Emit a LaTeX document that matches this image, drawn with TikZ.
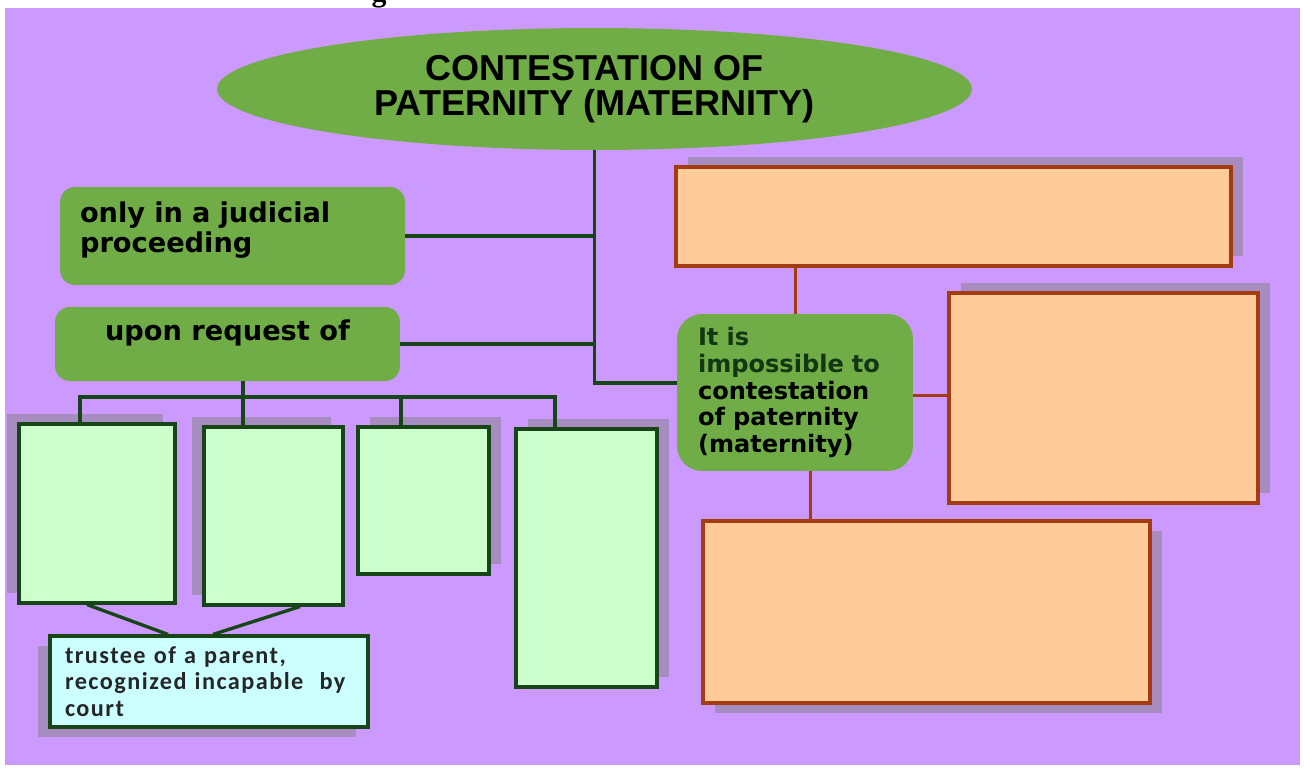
\documentclass[tikz,border=0pt]{standalone}
\usepackage{fontspec}
\setmainfont{Liberation Sans}
\newfontfamily\boxfont{DejaVu Sans}
\newfontfamily\notefont{Carlito}[LetterSpace=6]
\newfontfamily\headfont{Liberation Serif}
\usetikzlibrary{positioning,shapes.geometric,shadows,backgrounds}
\definecolor{lilacbg}{HTML}{CC99FF}
\definecolor{leafgreen}{HTML}{70AD47}
\definecolor{mintfill}{HTML}{CCFFCC}
\definecolor{icefill}{HTML}{CCFFFF}
\definecolor{peachfill}{HTML}{FFCC99}
\definecolor{pinegreen}{HTML}{174517}
\definecolor{rustline}{HTML}{A33C12}
\definecolor{shadelilac}{HTML}{A68CBF}
\tikzset{
  titleoval/.style={ellipse, fill=leafgreen, inner sep=0pt, minimum width=15.1cm,
    minimum height=2.44cm, align=center, font=\bfseries\fontsize{20.5}{20}\selectfont},
  greenbox/.style={rectangle, fill=leafgreen, rounded corners=0.3cm,
    font=\boxfont\bfseries\fontsize{15.5}{17}\selectfont},
  whobox/.style={rectangle, draw=pinegreen, fill=mintfill, line width=1.8pt},
  notebox/.style={rectangle, draw=pinegreen, fill=icefill, line width=1.8pt,
    align=left, font=\notefont\bfseries\fontsize{13.8}{15}\selectfont, text=black!85},
  limitbox/.style={rectangle, draw=rustline, fill=peachfill, line width=1.8pt},
  shadeUL/.style={drop shadow={shadow xshift=-0.24cm, shadow yshift=0.2cm,
    fill=shadelilac, opacity=1}},
  shadeUR/.style={drop shadow={shadow xshift=0.24cm, shadow yshift=0.2cm,
    fill=shadelilac, opacity=1}},
  shadeDL/.style={drop shadow={shadow xshift=-0.24cm, shadow yshift=-0.2cm,
    fill=shadelilac, opacity=1}},
  shadeDR/.style={drop shadow={shadow xshift=0.24cm, shadow yshift=-0.2cm,
    fill=shadelilac, opacity=1}},
  trunk/.style={draw=pinegreen, line width=1.9pt},
  rustlink/.style={draw=rustline, line width=1.7pt},
}

\begin{document}
\begin{tikzpicture}[x=0.02cm, y=-0.02cm]
\useasboundingbox (0,0) rectangle (1304,768);
\fill[white] (0,0) rectangle (1304,768);
\fill[lilacbg] (5,8) rectangle (1300,765);
% cut-off heading above the chart
\node[font=\headfont\bfseries\fontsize{17}{17}\selectfont, anchor=base, inner sep=0pt] (cut) at (379,1) {g};
% centre and left branch
\node[titleoval] (title) at (594.5,89) {CONTESTATION OF\\PATERNITY (MATERNITY)};
\node[greenbox, align=left, text width=6.1cm, inner xsep=0.4cm, minimum height=1.96cm,
  text depth=0.96cm] (judicial) at (232.5,236) {only in a judicial\\proceeding};
\node[greenbox, minimum width=6.9cm, minimum height=1.48cm, text depth=0.56cm] (upon) at (227.5,344) {upon request of};
\node[greenbox, rounded corners=0.5cm, align=left, text width=3.88cm, inner xsep=0.42cm,
  minimum height=3.14cm, font=\boxfont\bfseries\fontsize{13.7}{15.3}\selectfont] (itis) at (795,392.5)
  {\textcolor{pinegreen!80!black}{It is}\\\textcolor{pinegreen!80!black}{impossible to}\\contestation\\of paternity\\(maternity)};
% applicants
\node[whobox, shadeUL, minimum width=3.12cm, minimum height=3.58cm] (lg1) at (97,513.5) {};
\node[whobox, shadeUL, minimum width=2.78cm, minimum height=3.56cm] (lg2) at (273.5,516) {};
\node[whobox, shadeUR, minimum width=2.62cm, minimum height=2.94cm] (lg3) at (423.5,500.5) {};
\node[whobox, shadeUR, minimum width=2.82cm, minimum height=5.16cm] (lg4) at (586.5,558) {};
\node[notebox, shadeDL, text width=5.76cm, inner xsep=0.3cm, minimum height=1.82cm] (trustee) at (209,681.5)
  {trustee of a parent,\\recognized incapable\ \ by\\court};
% cases where it is impossible
\node[limitbox, shadeUR, minimum width=11.1cm, minimum height=1.98cm] (otop) at (953.5,216.5) {};
\node[limitbox, shadeUR, minimum width=6.18cm, minimum height=4.2cm] (oright) at (1103.5,398) {};
\node[limitbox, shadeDR, minimum width=8.94cm, minimum height=3.64cm] (obot) at (926.5,612) {};
% connectors
\coordinate (bus) at (0,397);
\draw[trunk] (title.south) |- ([yshift=0.19cm]itis.west);
\draw[trunk] (judicial.east) -- (judicial.east -| title.south);
\draw[trunk] (upon.east) -- (upon.east -| title.south);
\draw[trunk] ([xshift=-0.34cm]lg1.north) -- ([xshift=-0.34cm]lg1.north |- bus)
  -- ([xshift=-0.63cm]lg4.north |- bus) -- ([xshift=-0.63cm]lg4.north);
\draw[trunk] ([xshift=-0.61cm]lg2.north |- upon.south) -- ([xshift=-0.61cm]lg2.north);
\draw[trunk] ([xshift=-0.45cm]lg3.north) -- ([xshift=-0.45cm]lg3.north |- bus);
\draw[trunk] ([xshift=-0.2cm]lg1.south) -- ([xshift=-0.82cm]trustee.north);
\draw[trunk] ([xshift=0.53cm]lg2.south) -- ([xshift=0.08cm]trustee.north);
\draw[rustlink] (itis.north) -- (itis.north |- otop.south);
\draw[rustlink] ([yshift=-0.05cm]itis.east) -- ([yshift=-0.05cm]itis.east -| oright.west);
\draw[rustlink] ([xshift=0.3cm]itis.south) -- ([xshift=0.3cm]itis.south |- obot.north);
\end{tikzpicture}
\end{document}
